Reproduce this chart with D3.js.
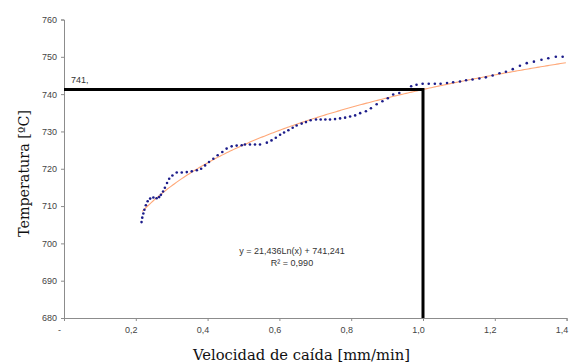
<!DOCTYPE html>
<html><head><meta charset="utf-8">
<script src="https://cdn.jsdelivr.net/npm/d3@7"></script>
<style>body{margin:0;background:#fff}svg{display:block}</style>
</head><body><svg id="c" width="571" height="363"></svg>
<script>
const xVals = [0.216,0.218,0.221,0.224,0.228,0.233,0.240,0.249,0.258,0.265,0.270,0.276,0.281,0.287,0.293,0.302,0.314,0.328,0.342,0.356,0.370,0.382,0.393,0.404,0.416,0.428,0.441,0.453,0.467,0.481,0.495,0.504,0.518,0.532,0.546,0.565,0.578,0.590,0.602,0.613,0.625,0.637,0.648,0.662,0.674,0.687,0.702,0.715,0.728,0.741,0.755,0.769,0.783,0.797,0.811,0.825,0.841,0.855,0.871,0.887,0.902,0.917,0.934,0.950,0.967,0.982,0.999,1.016,1.033,1.049,1.067,1.084,1.103,1.120,1.138,1.157,1.175,1.194,1.213,1.231,1.250,1.270,1.289,1.309,1.330,1.349,1.370,1.389];
const yVals = [705.7,706.9,708.0,709.0,710.2,711.3,712.0,712.3,712.1,712.4,713.0,713.9,714.9,716.2,717.3,718.2,719.0,719.0,719.1,719.3,719.6,720.0,720.9,721.8,722.7,723.6,724.5,725.4,726.0,726.2,726.3,726.5,726.5,726.5,726.5,727.0,727.6,728.3,729.1,729.7,730.3,731.0,731.6,732.1,732.5,733.0,733.2,733.2,733.2,733.2,733.3,733.5,733.7,734.0,734.3,734.9,735.4,736.2,737.3,738.1,738.9,739.9,740.3,741.2,742.1,742.5,742.8,742.8,742.8,742.8,743.0,743.2,743.4,743.7,743.9,744.2,744.5,745.0,745.6,746.0,746.7,747.6,748.3,748.7,749.2,749.6,750.0,750.0];
const yTicks = [680,690,700,710,720,730,740,750,760];
const xTicks = [0,0.2,0.4,0.6,0.8,1.0,1.2,1.4];
const xTickLabels = ["-","0,2","0,4","0,6","0,8","1,0","1,2","1,4"];
const trendA = 21.436, trendB = 741.241;
const markX = 1.0, markY = 741.241;
const markLabel = "741,";
const eqLines = ["y = 21,436Ln(x) + 741,241", "R² = 0,990"];

const svg = d3.select("#c");
const x = d3.scaleLinear().domain([0,1.4]).range([64,566.6]);
const y = d3.scaleLinear().domain([680,760]).range([318,19.5]);
const axisColor = "#8c8c8c";
const tickFont = "Arial, 'Liberation Sans', sans-serif";

// Y axis
const ya = svg.append("g").attr("transform","translate(64,0)")
  .call(d3.axisLeft(y).tickValues(yTicks).tickSize(3).tickFormat(d3.format("d")));
ya.select(".domain").attr("stroke",axisColor);
ya.selectAll(".tick line").attr("stroke",axisColor);
ya.selectAll("text").attr("fill","#444").style("font-family",tickFont).style("font-size","9px").attr("x",-7);

// X axis
const xa = svg.append("g").attr("transform","translate(0,318)")
  .call(d3.axisBottom(x).tickValues(xTicks).tickSize(3).tickFormat((d,i)=>xTickLabels[i]));
xa.select(".domain").attr("stroke",axisColor);
xa.selectAll(".tick line").attr("stroke",axisColor);
xa.selectAll("text").attr("fill","#444").style("font-family",tickFont).style("font-size","9px").attr("y",9).attr("dx",-5);

// Trend line
const trendX = d3.range(0.218, 1.4001, 0.005);
svg.append("path")
  .datum(trendX)
  .attr("fill","none").attr("stroke","#ffa878").attr("stroke-width",1.1)
  .attr("d", d3.line().x(d=>x(d)).y(d=>y(trendA*Math.log(d)+trendB)));

// Data dots
svg.append("g").selectAll("circle").data(xVals).join("circle")
  .attr("cx",(d)=>x(d)).attr("cy",(d,i)=>y(yVals[i])).attr("r",1.3)
  .attr("fill","#1c1c8a");

// Marker lines
svg.append("path")
  .attr("d", `M${x(0)},${y(markY)}H${x(markX)}V${y(680)}`)
  .attr("fill","none").attr("stroke","#000").attr("stroke-width",3);
svg.append("text").attr("x",x(0)+7).attr("y",y(markY)-6)
  .text(markLabel).attr("fill","#333").style("font-family",tickFont).style("font-size","9px");

// Equation
svg.append("g").selectAll("text").data(eqLines).join("text")
  .attr("x",292).attr("y",(d,i)=>254+i*12).attr("text-anchor","middle")
  .attr("fill","#333").style("font-family",tickFont).style("font-size","9px")
  .text(d=>d);

// Titles
const serif = "'DejaVu Serif','Liberation Serif',serif";
function fit(t, target){
  const w = t.node().getComputedTextLength();
  const fs = parseFloat(t.style("font-size"));
  t.style("font-size", (fs*target/w).toFixed(2)+"px");
}
const xt = svg.append("text").attr("x",301.5).attr("y",360).attr("text-anchor","middle")
  .style("font-family",serif).style("font-size","15px").attr("fill","#111")
  .text("Velocidad de caída [mm/min]");
fit(xt, 217);
const yt = svg.append("text").attr("transform","translate(29,173.5) rotate(-90)").attr("text-anchor","middle")
  .style("font-family",serif).style("font-size","15px").attr("fill","#111")
  .text("Temperatura [ºC]");
fit(yt, 127);
</script></body></html>
